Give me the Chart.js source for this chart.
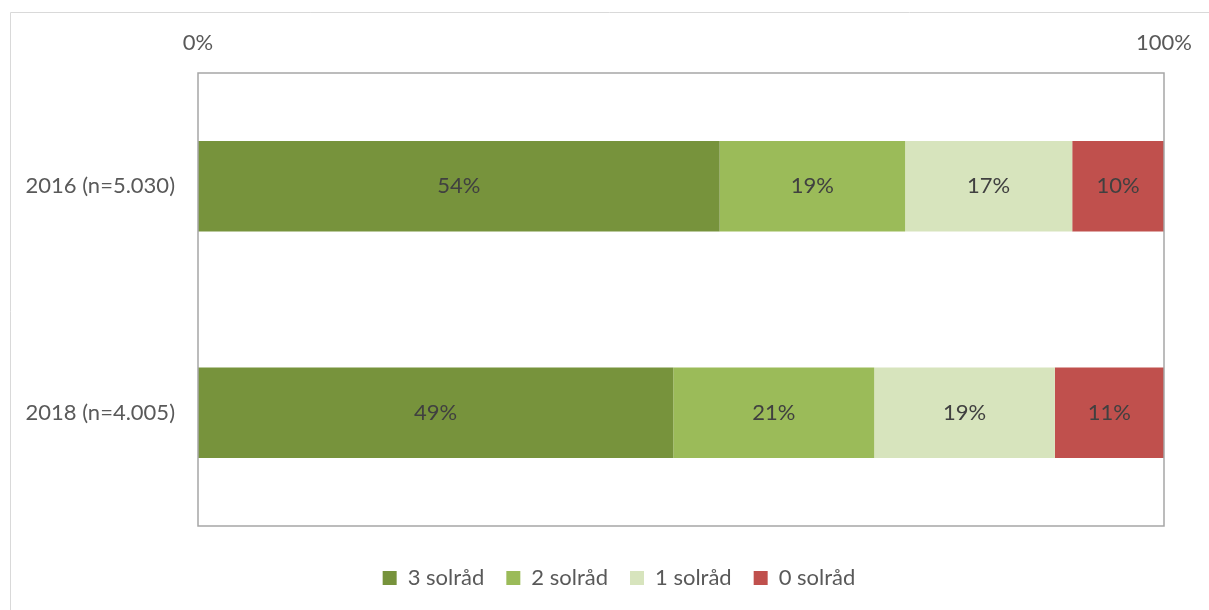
<!DOCTYPE html>
<html>
<head>
<meta charset="utf-8">
<script src="https://cdn.jsdelivr.net/npm/chart.js@4"></script>
<style>
  html, body { margin: 0; padding: 0; background: #fff; overflow: hidden; }
  #wrap { position: relative; width: 1209px; height: 610px; }
</style>
</head>
<body>
<div id="wrap"><canvas id="chart" width="1209" height="610"></canvas></div>
<script>
// data
const categories = ["2016 (n=5.030)", "2018 (n=4.005)"];
const seriesNames = ["3 solråd", "2 solråd", "1 solråd", "0 solråd"];
const solrad3 = [54.0, 49.2];
const solrad2 = [19.2, 20.8];
const solrad1 = [17.3, 18.7];
const solrad0 = [9.5, 11.3];
const xTickValues = [0, 100];
const xTickLabels = ["0%", "100%"];

const colors = ["#77933C", "#9BBB59", "#D7E4BD", "#C0504D"];
const fontFamily = "Lato, 'Liberation Sans', sans-serif";
const fontSize = 22;

//outer frame + plot border, legend nudged to the right like the original
const frame = {
  id: "frame",
  afterLayout(chart) {
    chart.legend.left += 27;
    chart.legend.right += 27;
  },
  beforeDraw(chart) {
    const ctx = chart.ctx;
    ctx.save();
    ctx.strokeStyle = "#d9d9d9";
    ctx.lineWidth = 1;
    ctx.beginPath();
    ctx.moveTo(10.5, 610);
    ctx.lineTo(10.5, 12.5);
    ctx.lineTo(1209, 12.5);
    ctx.stroke();
    ctx.restore();
  },
  afterDatasetsDraw(chart) {
    const ctx = chart.ctx;
    const a = chart.chartArea;
    ctx.save();
    ctx.strokeStyle = "#a6a6a6";
    ctx.lineWidth = 1.5;
    ctx.strokeRect(a.left, a.top, a.right - a.left, a.bottom - a.top);
    ctx.restore();
  },
};

//percent labels inside bars
const barLabels = {
  id: "barLabels",
  afterDatasetsDraw(chart) {
    const ctx = chart.ctx;
    ctx.save();
    ctx.font = `${fontSize}px ${fontFamily}`;
    ctx.fillStyle = "#404040";
    ctx.textAlign = "center";
    ctx.textBaseline = "middle";
    chart.data.datasets.forEach((ds, i) => {
      chart.getDatasetMeta(i).data.forEach((bar, j) => {
        const p = bar.getProps(["x", "y", "base"], true);
        ctx.fillText(Math.round(ds.data[j]) + "%", (p.x + p.base) / 2, p.y);
      });
    });
    ctx.restore();
  },
};

const seriesData = [solrad3, solrad2, solrad1, solrad0];

new Chart(document.getElementById("chart"), {
  type: "bar",
  data: {
    labels: categories,
    datasets: seriesNames.map((name, i) => ({
      label: name,
      data: seriesData[i],
      backgroundColor: colors[i],
      borderWidth: 0,
      categoryPercentage: 1,
      barPercentage: 0.4,
    })),
  },
  options: {
    indexAxis: "y",
    responsive: false,
    animation: false,
    layout: { padding: { left: 20, right: 45, top: 0, bottom: 11 } },
    scales: {
      x: {
        position: "top",
        stacked: true,
        min: 0,
        max: 100,
        grid: { display: false, drawTicks: false },
        border: { display: false },
        afterBuildTicks(scale) {
          scale.ticks = xTickValues.map((v) => ({ value: v }));
        },
        afterFit(scale) {
          scale.height = 73;
        },
        ticks: {
          padding: 17,
          color: "#595959",
          font: { family: fontFamily, size: fontSize },
          maxRotation: 0,
          callback: (value) => xTickLabels[xTickValues.indexOf(value)],
        },
      },
      y: {
        stacked: true,
        grid: { display: false, drawTicks: false },
        border: { display: false },
        afterFit(scale) {
          scale.width = 178;
        },
        ticks: {
          padding: 23,
          color: "#595959",
          font: { family: fontFamily, size: fontSize },
        },
      },
    },
    plugins: {
      tooltip: { enabled: false },
      legend: {
        position: "bottom",
        title: {
          display: true,
          text: " ",
          font: { size: 1, lineHeight: 1 },
          padding: { top: 18, bottom: 0 },
        },
        labels: {
          boxWidth: 14,
          boxHeight: 14,
          padding: 22,
          color: "#595959",
          font: { family: fontFamily, size: fontSize },
        },
      },
    },
  },
  plugins: [frame, barLabels],
});
</script>
</body>
</html>
